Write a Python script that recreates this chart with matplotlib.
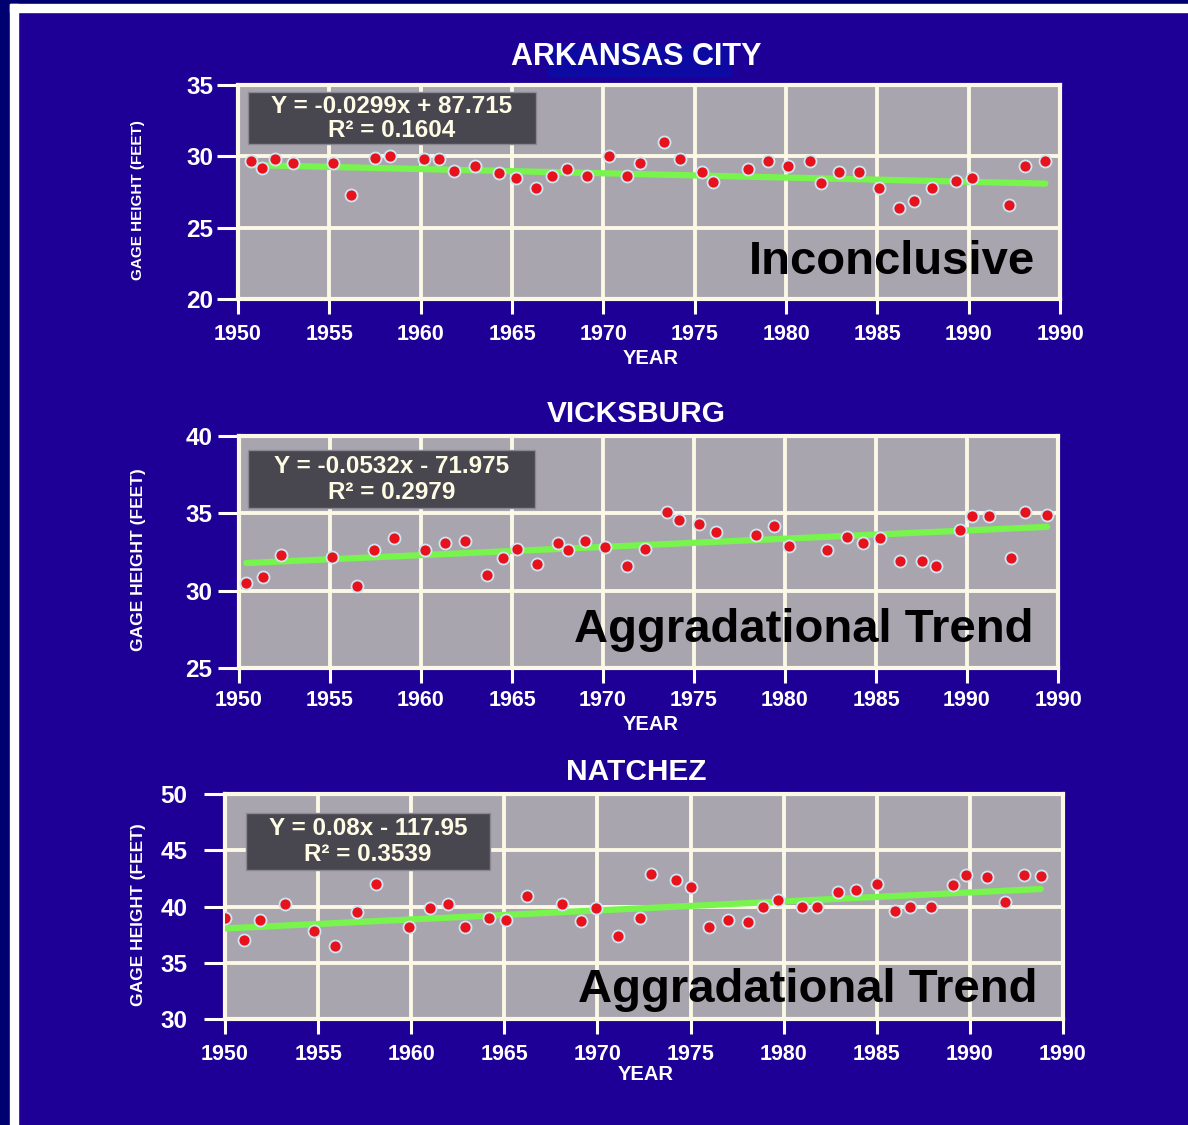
import numpy as np
import matplotlib
matplotlib.use("Agg")
import matplotlib.pyplot as plt
from matplotlib.patches import Rectangle

plt.rcParams['font.family'] = ['Liberation Sans', 'DejaVu Sans']
plt.rcParams['font.weight'] = 'bold'

# dados
ark_years = [1950.7, 1951.3, 1952.0, 1953.0, 1955.2, 1956.2, 1957.5, 1958.3, 1960.2, 1961.0,
             1961.8, 1963.0, 1964.3, 1965.2, 1966.3, 1967.2, 1968.0, 1969.1, 1970.3, 1971.3,
             1972.0, 1973.3, 1974.2, 1975.4, 1976.0, 1977.9, 1979.0, 1980.1, 1981.3, 1981.9,
             1982.9, 1984.0, 1985.1, 1986.2, 1987.0, 1988.0, 1989.3, 1990.2, 1992.2, 1993.1,
             1994.2]
ark_gage = [29.7, 29.2, 29.8, 29.5, 29.5, 27.3, 29.9, 30.0, 29.8, 29.8,
            29.0, 29.3, 28.8, 28.5, 27.8, 28.6, 29.1, 28.6, 30.0, 28.6,
            29.5, 31.0, 29.8, 28.9, 28.2, 29.1, 29.7, 29.3, 29.7, 28.1,
            28.9, 28.9, 27.8, 26.4, 26.9, 27.8, 28.3, 28.5, 26.6, 29.3,
            29.7]

vik_years = [1950.4, 1951.3, 1952.3, 1955.1, 1956.5, 1957.4, 1958.5, 1960.2, 1961.3, 1962.4,
             1963.6, 1964.5, 1965.3, 1966.4, 1967.5, 1968.1, 1969.0, 1970.1, 1971.3, 1972.3,
             1973.5, 1974.2, 1975.3, 1976.2, 1978.4, 1979.4, 1980.2, 1982.3, 1983.4, 1984.3,
             1985.2, 1986.3, 1987.5, 1988.3, 1989.6, 1990.3, 1991.2, 1992.4, 1993.2, 1994.4]
vik_gage = [30.5, 30.9, 32.3, 32.2, 30.3, 32.6, 33.4, 32.6, 33.1, 33.2,
            31.0, 32.1, 32.7, 31.7, 33.1, 32.6, 33.2, 32.8, 31.6, 32.7,
            35.1, 34.6, 34.3, 33.8, 33.6, 34.2, 32.9, 32.6, 33.5, 33.1,
            33.4, 31.9, 31.9, 31.6, 33.9, 34.8, 34.8, 32.1, 35.1, 34.9]

nat_years = [1950.0, 1951.0, 1951.9, 1953.2, 1954.8, 1955.9, 1957.1, 1958.1, 1959.9, 1961.0,
             1962.0, 1962.9, 1964.2, 1965.1, 1966.2, 1968.1, 1969.1, 1969.9, 1971.1, 1972.3,
             1972.9, 1974.2, 1975.0, 1976.0, 1977.0, 1978.1, 1978.9, 1979.7, 1981.0, 1981.8,
             1982.9, 1983.9, 1985.0, 1986.0, 1986.8, 1987.9, 1989.1, 1989.8, 1990.9, 1991.9,
             1992.9, 1993.8]
nat_gage = [39.0, 37.0, 38.8, 40.2, 37.8, 36.5, 39.5, 42.0, 38.2, 39.9,
            40.2, 38.2, 39.0, 38.8, 40.9, 40.2, 38.7, 39.9, 37.4, 39.0,
            42.9, 42.4, 41.7, 38.2, 38.8, 38.6, 40.0, 40.6, 40.0, 40.0,
            41.3, 41.5, 42.0, 39.6, 40.0, 40.0, 41.9, 42.8, 42.6, 40.4,
            42.8, 42.7]

# retas de tendencia (coeficientes da figura)
slopes = [-0.0299, 0.0532, 0.08]
intercepts = [87.715, -71.975, -117.95]
equations = ['Y = -0.0299x + 87.715', 'Y = -0.0532x - 71.975', 'Y = 0.08x - 117.95']
r2_labels = ['R² = 0.1604', 'R² = 0.2979', 'R² = 0.3539']

titles = ['ARKANSAS CITY', 'VICKSBURG', 'NATCHEZ']
notes = ['Inconclusive', 'Aggradational Trend', 'Aggradational Trend']
ylims = [(20, 35), (25, 40), (30, 50)]
year_ticks = [1950, 1955, 1960, 1965, 1970, 1975, 1980, 1985, 1990, 1995]
year_labels = ['1950', '1955', '1960', '1965', '1970', '1975', '1980', '1985', '1990', '1990']

all_years = [ark_years, vik_years, nat_years]
all_gage = [ark_gage, vik_gage, nat_gage]

BG = '#1E0096'
W, H = 1188, 1125

fig = plt.figure(figsize=(W / 100, H / 100), dpi=100, facecolor=BG)

# moldura branca a esquerda e no topo
fig.patches.append(Rectangle((0, 0), 10 / W, 1, transform=fig.transFigure, color='#000070', zorder=0))
fig.patches.append(Rectangle((0, 1 - 4 / H), 1, 4 / H, transform=fig.transFigure, color='#000070', zorder=0))
fig.patches.append(Rectangle((10 / W, 0), 8 / W, 1 - 4 / H, transform=fig.transFigure, color='white', zorder=1))
fig.patches.append(Rectangle((10 / W, 1 - 12 / H), 1 - 10 / W, 8 / H, transform=fig.transFigure, color='white', zorder=1))
fig.patches.append(Rectangle((548 / W, 1 - 76 / H), 182 / W, 31 / H, transform=fig.transFigure, color='#0C0AA2', zorder=1))

# posicoes dos paineis em pixels: esquerda, topo, direita, base
boxes = [(238, 85, 1060, 299), (239, 436, 1058, 668), (225, 794, 1063, 1019)]
eq_boxes = [(0.012, 0.724, 0.350, 0.243), (0.011, 0.69, 0.350, 0.25), (0.025, 0.662, 0.291, 0.254)]
ypads = [3, 4, 12]
xpads = [7, 5, 7]
ylab_size = [11, 12.5, 12.5]
title_y = [57, 414, 772]
year_y = [359, 724, 1075]
note_y = [0.175, 0.165, 0.13]

for i in range(3):
    l, t, r, b = boxes[i]
    ax = fig.add_axes([l / W, 1 - b / H, (r - l) / W, (b - t) / H])
    ax.set_facecolor('#A9A5AF')
    ax.set_xlim(1950, 1995)
    ax.set_ylim(*ylims[i])
    ax.set_xticks(year_ticks)
    ax.set_xticklabels(year_labels)
    ax.set_yticks(np.arange(ylims[i][0], ylims[i][1] + 1, 5))
    ax.grid(True, color='#FBF8E6', linewidth=2.8, zorder=1)
    ax.set_axisbelow(True)
    for s in ax.spines.values():
        s.set_color('#FBF8E6')
        s.set_linewidth(3)
    ax.tick_params(axis='x', colors='white', length=11, width=2.2, pad=xpads[i], labelsize=15.5)
    ax.tick_params(axis='y', colors='white', length=15, width=2.2, pad=ypads[i], labelsize=17.5)

    yrs = np.array(all_years[i])
    xs = np.array([yrs.min(), yrs.max()])
    ax.plot(xs, slopes[i] * xs + intercepts[i], color='#78F54C', linewidth=4.5,
            solid_capstyle='round', zorder=3)
    ax.scatter(yrs, all_gage[i], s=75, color='#E8121C', edgecolors='#CFE6F2',
               linewidths=1.3, zorder=4)

    ex, ey, ew, eh = eq_boxes[i]
    ax.add_patch(Rectangle((ex, ey), ew, eh, transform=ax.transAxes, facecolor='#48464F',
                           edgecolor='#8A8890', linewidth=1, zorder=5))
    ax.text(ex + ew / 2, ey + eh * 0.72, equations[i], transform=ax.transAxes, ha='center',
            va='center', color='#FFFCE6', fontsize=17.5, fontweight='bold', zorder=6)
    ax.text(ex + ew / 2, ey + eh * 0.27, r2_labels[i], transform=ax.transAxes, ha='center',
            va='center', color='#FFFCE6', fontsize=17.5, fontweight='bold', zorder=6)

    ax.text(0.97, note_y[i], notes[i], transform=ax.transAxes, ha='right', va='center',
            color='black', fontsize=34, fontweight='bold', zorder=6)

    fig.text(138 / W, 1 - ((t + b) / 2 + 8) / H, 'GAGE HEIGHT (FEET)', rotation=90,
             ha='center', va='center', color='white', fontsize=ylab_size[i], fontweight='bold')
    fig.text(((l + r) / 2 + 2) / W, 1 - year_y[i] / H, 'YEAR', ha='center', va='center',
             color='white', fontsize=14.5, fontweight='bold')
    fig.text(636 / W, 1 - title_y[i] / H, titles[i], ha='center', va='center',
             color='white', fontsize=22 if i == 0 else 21.5, fontweight='bold')

fig.savefig('out.png', dpi=100, facecolor=BG)
